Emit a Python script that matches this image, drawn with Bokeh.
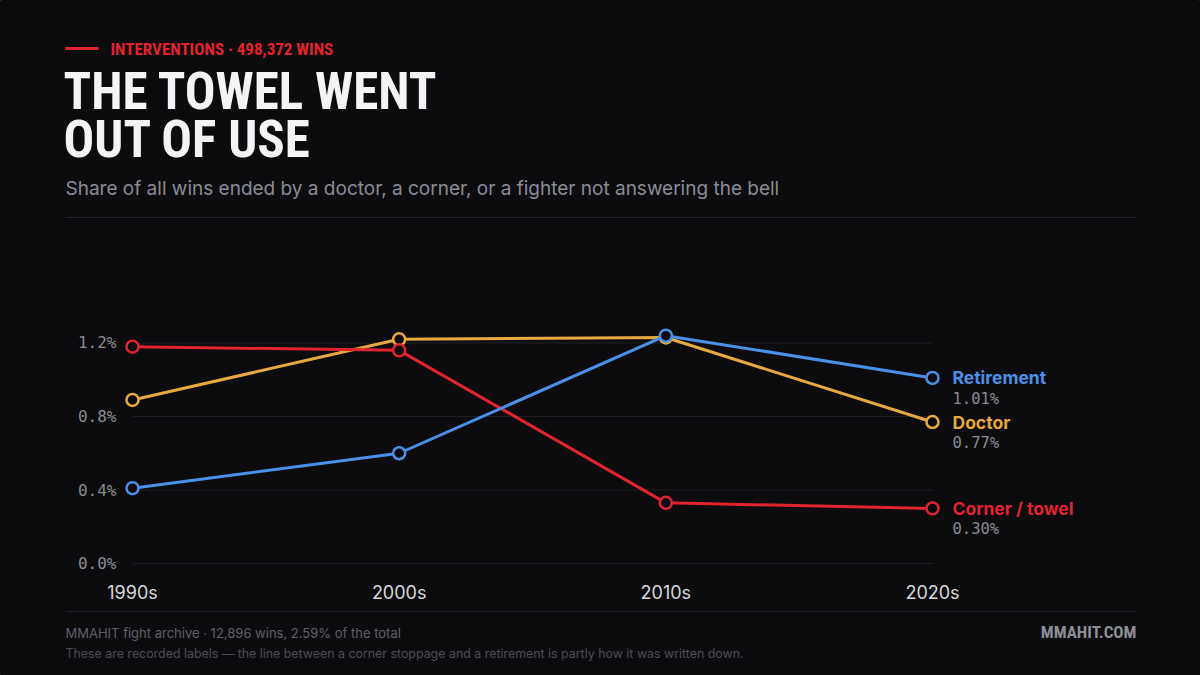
from bokeh.plotting import figure
from bokeh.models import (ColumnDataSource, Range1d, FixedTicker, PrintfTickFormatter, Label)
from bokeh.core.properties import value
from bokeh.embed import file_html
from bokeh.resources import INLINE

# ---------------- data ----------------
decades = ["1990s", "2000s", "2010s", "2020s"]
retirement = [0.41, 0.60, 1.24, 1.01]
doctor = [0.89, 1.22, 1.23, 0.77]
corner = [1.18, 1.16, 0.33, 0.30]
series_names = ["Retirement", "Doctor", "Corner / towel"]
y_ticks = [0.0, 0.4, 0.8, 1.2]

kicker = "INTERVENTIONS · 498,372 WINS"
title1 = "THE TOWEL WENT"
title2 = "OUT OF USE"
subtitle = "Share of all wins ended by a doctor, a corner, or a fighter not answering the bell"
foot1 = "MMAHIT fight archive · 12,896 wins, 2.59% of the total"
foot2 = "These are recorded labels — the line between a corner stoppage and a retirement is partly how it was written down."
brand = "MMAHIT.COM"

# ---------------- style ----------------
BG = "#0c0c0f"
BLUE = "#4a8fe8"
YELLOW = "#e6a93f"
RED = "#e0232f"
GRID = "#1f1f24"
RULE = "#222227"
COND = "Roboto Condensed"
SANS = "Inter"
MONO = "DejaVu Sans Mono"

W, H = 1200, 675
xs = list(range(len(decades)))

p = figure(width=W, height=H, output_backend="svg", toolbar_location=None,
           x_range=Range1d(-0.495, 4.005), y_range=Range1d(-0.6095, 3.0639),
           min_border=0, outline_line_color=BG,
           background_fill_color=BG, border_fill_color=BG)
p.extra_x_ranges = {"px": Range1d(0, W)}
p.extra_y_ranges = {"px": Range1d(H, 0)}
p.xgrid.visible = False
p.ygrid.visible = False

p.xaxis.fixed_location = 0
p.yaxis.fixed_location = 0
p.xaxis.ticker = FixedTicker(ticks=xs)
p.xaxis.major_label_overrides = {i: d for i, d in enumerate(decades)}
p.yaxis.ticker = FixedTicker(ticks=y_ticks)
p.yaxis.formatter = PrintfTickFormatter(format="%.1f%%")
for ax in (p.xaxis[0], p.yaxis[0]):
    ax.axis_line_color = None
    ax.major_tick_line_color = None
    ax.minor_tick_line_color = None
    ax.major_tick_out = 0
    ax.major_tick_in = 0
p.xaxis.major_label_text_font = SANS
p.xaxis.major_label_text_font_size = "18px"
p.xaxis.major_label_text_color = "#d8d8dc"
p.xaxis.major_label_standoff = 18
p.yaxis.major_label_text_font = MONO
p.yaxis.major_label_text_font_size = "16px"
p.yaxis.major_label_text_color = "#8a8a92"
p.yaxis.major_label_standoff = 16

p.segment(x0=[xs[0]] * len(y_ticks), x1=[xs[-1]] * len(y_ticks), y0=y_ticks, y1=y_ticks,
          line_color=GRID, line_width=1)

for vals, col in [(doctor, YELLOW), (corner, RED), (retirement, BLUE)]:
    src = ColumnDataSource(dict(x=xs, y=vals))
    p.line("x", "y", source=src, line_color=col, line_width=3)
    p.scatter("x", "y", source=src, size=12, fill_color=BG, line_color=col, line_width=2.5)

end_src = ColumnDataSource(dict(
    x=[xs[-1]] * 3,
    y=[retirement[-1], doctor[-1], corner[-1]],
    name=series_names,
    val=[f"{v:.2f}%" for v in (retirement[-1], doctor[-1], corner[-1])],
    color=[BLUE, YELLOW, RED],
))
p.text("x", "y", text="name", source=end_src, x_offset=20, y_offset=0,
       text_color="color", text_font=value(SANS), text_font_size="17.5px",
       text_font_style="bold", text_baseline="middle", text_align="left")
p.text("x", "y", text="val", source=end_src, x_offset=20, y_offset=21,
       text_color="#8a8a92", text_font=value(MONO), text_font_size="15.5px",
       text_baseline="middle", text_align="left")


def lab(text, x, y, size, color, font, style="normal", align="left"):
    p.add_layout(Label(x=x, y=y, x_range_name="px", y_range_name="px", text=text,
                       text_font=font, text_font_size=size, text_color=color,
                       text_font_style=style, text_align=align, text_baseline="middle"))


def rule(x0, x1, y, thick, color):
    p.segment(x0=[x0], x1=[x1], y0=[y], y1=[y], line_color=color, line_width=thick,
              x_range_name="px", y_range_name="px")


rule(65, 98, 48, 3, RED)
lab(kicker, 110, 48, "17px", RED, COND, "bold")
lab(title1, 63, 91, "51px", "#f4f4f6", COND, "bold")
lab(title2, 63, 139, "51px", "#f4f4f6", COND, "bold")
lab(subtitle, 65, 188, "19px", "#8b8b94", SANS)
rule(65, 1136, 217, 1, RULE)
rule(65, 1136, 611, 1, RULE)
lab(foot1, 65, 632, "13px", "#5f5f68", SANS)
lab(foot2, 65, 653, "12.4px", "#4c4c55", SANS)
lab(brand, 1136, 631, "17px", "#8d8d96", COND, "bold", align="right")

open("out.html", "w").write(file_html(p, INLINE))
